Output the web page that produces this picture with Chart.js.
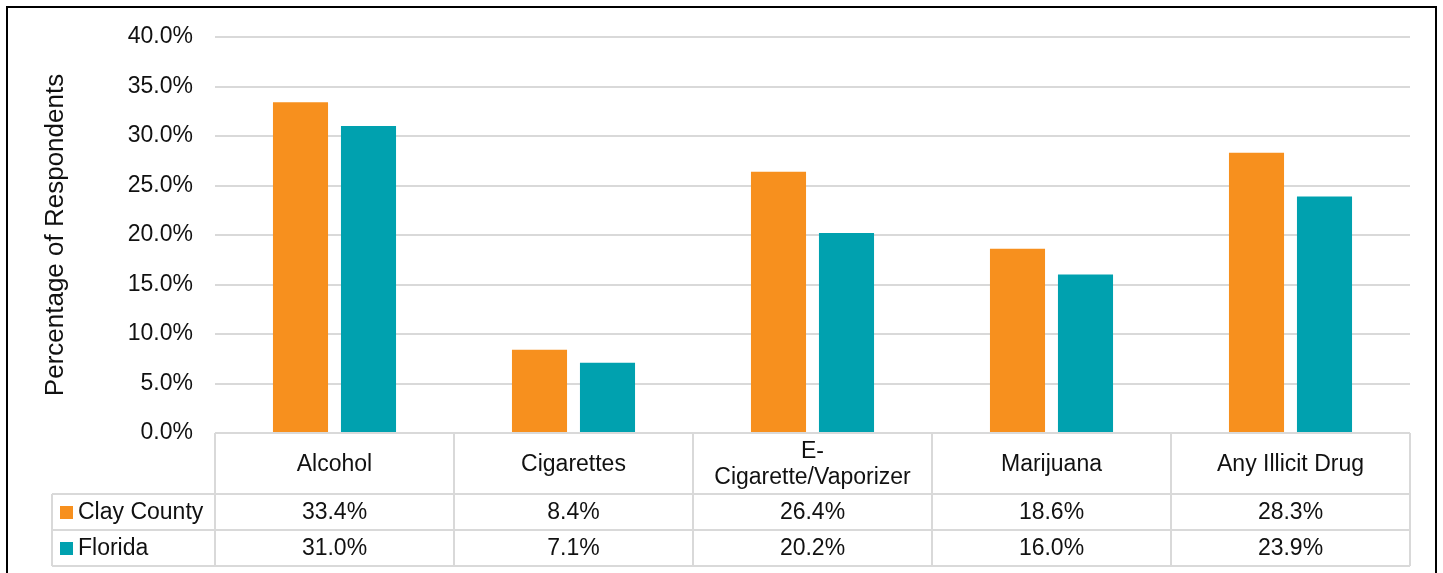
<!DOCTYPE html>
<html>
<head>
<meta charset="utf-8">
<script src="https://cdn.jsdelivr.net/npm/chart.js@4/dist/chart.umd.min.js"></script>
<style>
  html, body { margin: 0; padding: 0; background: #fff; }
  #wrap { width: 1443px; height: 573px; position: relative; }
</style>
</head>
<body>
<div id="wrap"><canvas id="c" width="1443" height="573"></canvas></div>
<script>
const categories = ['Alcohol', 'Cigarettes', 'E-Cigarette/Vaporizer', 'Marijuana', 'Any Illicit Drug'];
const seriesNames = ['Clay County', 'Florida'];
const clayCounty = [33.4, 8.4, 26.4, 18.6, 28.3];
const florida = [31.0, 7.1, 20.2, 16.0, 23.9];
const seriesColors = ['#F7901E', '#00A1AF'];
const yTitle = 'Percentage of Respondents';

const FONT = '"Liberation Sans", Arial, sans-serif';
const TEXT = '#111';
const GRID = '#d9d9d9';

const tablePlugin = {
  id: 'dataTable',
  afterDraw(chart) {
    const ctx = chart.ctx;
    const area = chart.chartArea;
    const x = chart.scales.x;
    const left = area.left, right = area.right, top = area.bottom;
    const n = categories.length;
    const colW = (right - left) / n;
    const headH = 61, rowH = 36;
    const legendLeft = 52;
    const y1 = top + headH, y2 = y1 + rowH, y3 = y2 + rowH;
    ctx.save();
    ctx.strokeStyle = GRID;
    ctx.lineWidth = 2;
    ctx.beginPath();
    ctx.moveTo(left, top); ctx.lineTo(right, top);
    [y1, y2, y3].forEach(yy => { ctx.moveTo(legendLeft, yy); ctx.lineTo(right, yy); });
    for (let i = 0; i <= n; i++) {
      const xx = Math.round(left + i * colW);
      ctx.moveTo(xx, top); ctx.lineTo(xx, y3);
    }
    ctx.moveTo(legendLeft, y1); ctx.lineTo(legendLeft, y3);
    ctx.stroke();

    ctx.fillStyle = TEXT;
    ctx.font = '23px ' + FONT;
    ctx.textAlign = 'center';
    ctx.textBaseline = 'middle';
    categories.forEach((cat, i) => {
      const cx = x.getPixelForValue(i);
      let lines = [cat];
      if (ctx.measureText(cat).width > colW - 30 && cat.indexOf('-') >= 0) {
        const k = cat.indexOf('-') + 1;
        lines = [cat.slice(0, k), cat.slice(k)];
      }
      const cy = top + headH / 2 + 1;
      const lh = 26;
      lines.forEach((ln, j) => {
        ctx.fillText(ln, cx, cy + (j - (lines.length - 1) / 2) * lh);
      });
    });
    chart.data.datasets.forEach((ds, r) => {
      const cy = y1 + rowH * r + rowH / 2 + 1;
      ds.data.forEach((v, i) => {
        ctx.textAlign = 'center';
        ctx.fillStyle = TEXT;
        ctx.fillText(v.toFixed(1) + '%', x.getPixelForValue(i), cy);
      });
      ctx.fillStyle = ds.backgroundColor;
      ctx.fillRect(legendLeft + 8, cy - 7, 13, 13);
      ctx.fillStyle = TEXT;
      ctx.textAlign = 'left';
      ctx.fillText(ds.label, legendLeft + 26, cy);
    });
    ctx.strokeStyle = '#000';
    ctx.lineWidth = 2;
    ctx.strokeRect(7, 7, 1429, 620);
    ctx.restore();
  }
};

new Chart(document.getElementById('c'), {
  type: 'bar',
  data: {
    labels: categories,
    datasets: [
      { label: seriesNames[0], data: clayCounty, backgroundColor: seriesColors[0] },
      { label: seriesNames[1], data: florida, backgroundColor: seriesColors[1] }
    ]
  },
  options: {
    responsive: false,
    animation: false,
    devicePixelRatio: 1,
    layout: { padding: { top: 37, bottom: 140, left: 0, right: 33 } },
    datasets: { bar: { categoryPercentage: 0.569, barPercentage: 0.81 } },
    plugins: { legend: { display: false }, tooltip: { enabled: false } },
    scales: {
      x: { display: false },
      y: {
        min: 0, max: 40,
        afterFit(scale) { scale.width = 215; },
        border: { display: false },
        grid: { color: GRID, lineWidth: 2, drawTicks: false },
        ticks: {
          stepSize: 5, padding: 22, color: TEXT,
          font: { family: FONT, size: 23 },
          callback: v => v.toFixed(1) + '%'
        },
        title: {
          display: true, text: yTitle, color: TEXT,
          font: { family: FONT, size: 26 },
          padding: { top: 40, bottom: 0 }
        }
      }
    }
  },
  plugins: [tablePlugin]
});
</script>
</body>
</html>
